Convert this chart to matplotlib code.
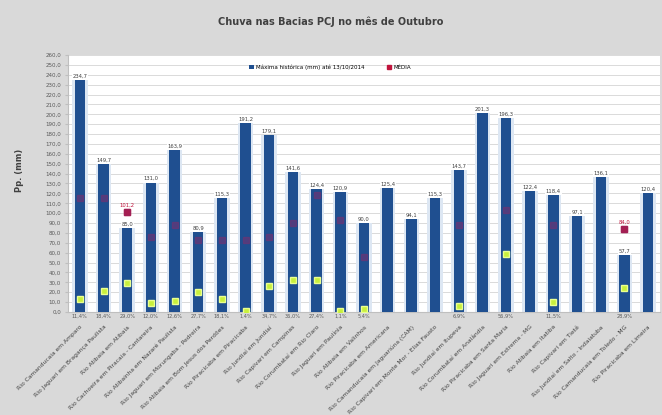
import matplotlib.pyplot as plt
import numpy as np

# postos pluviometricos das bacias PCJ
postos = ['Rio Camanducaia em Amparo', 'Rio Jaguari em Bragança Paulista',
          'Rio Atibaia em Atibaia', 'Rio Cachoeira em Piracaia - Cantareira',
          'Rio Atibainha em Nazaré Paulista', 'Rio Jaguari em Morungaba - Pedreira',
          'Rio Atibaia em Bom Jesus dos Perdões', 'Rio Piracicaba em Piracicaba',
          'Rio Jundiaí em Jundiaí', 'Rio Capivari em Campinas', 'Rio Corumbataí em Rio Claro',
          'Rio Jaguari em Paulínia', 'Rio Atibaia em Valinhos',
          'Rio Piracicaba em Americana', 'Rio Camanducaia em Jaguariúna (CAM)',
          'Rio Capivari em Monte Mor - Elias Fausto', 'Rio Jundiaí em Itupeva',
          'Rio Corumbataí em Analândia', 'Rio Piracicaba em Santa Maria',
          'Rio Jaguari em Extrema - MG', 'Rio Atibaia em Itatiba', 'Rio Capivari em Tietê',
          'Rio Jundiaí em Salto - Indaiatuba', 'Rio Camanducaia em Toledo - MG',
          'Rio Piracicaba em Limeira']

maxima = [234.7, 149.7, 85.0, 131.0, 163.9, 80.9, 115.3, 191.2, 179.1, 141.6,
          124.4, 120.9, 90.0, 125.4, 94.1, 115.3, 143.7, 201.3, 196.3, 122.4,
          118.4, 97.1, 136.1, 57.7, 120.4]
media = [115.3, 115.3, 101.2, 75.9, 88.0, 72.8, 72.8, 72.8, 75.9, 90.0,
         118.4, 93.1, 55.6, np.nan, np.nan, np.nan, 88.0, np.nan, 103.2, np.nan,
         88.0, np.nan, np.nan, 84.0, np.nan]
acumulada = [13.2, 21.2, 29.3, 9.1, 11.1, 20.2, 13.2, 1.0, 26.3, 32.4,
             32.4, 1.0, 3.0, np.nan, np.nan, np.nan, 6.1, np.nan, 58.7, np.nan,
             10.1, np.nan, np.nan, 24.3, np.nan]

def br(v, d=1):
    return f'{v:.{d}f}'.replace('.', ',')

x = np.arange(len(postos))
fig = plt.figure(figsize=(6.62, 4.15), dpi=100, facecolor='#d9d9d9')
ax = fig.add_axes([68 / 662, (415 - 312) / 415, 592 / 662, 257 / 415])
ax.set_facecolor('white')

# "brilho" claro em volta das barras
ax.bar(x, maxima, width=0.66, color='#dde7f3', zorder=1.5)
barras = ax.bar(x, maxima, width=0.44, color='#1f4f90', zorder=3)

# media: atras das barras e levemente visivel dentro delas
med, = ax.plot(x, media, 's', color='#c0143c', ms=4, zorder=2)
ax.plot(x, media, 's', color='#8a2a6a', ms=4, alpha=0.45, zorder=4)
ax.plot(x, acumulada, 's', color='#c8f03c', mec='#eaff90', mew=1, ms=5, zorder=5)

for i in range(len(postos)):
    ax.text(x[i], maxima[i] + 1.5, br(maxima[i]), ha='center', va='bottom', fontsize=3.8,
            color='#404040', zorder=6,
            bbox=dict(boxstyle='square,pad=0.1', fc='white', ec='none'))
    if not np.isnan(media[i]) and media[i] > maxima[i]:
        ax.text(x[i], media[i] + 4, br(media[i]), ha='center', va='bottom', fontsize=3.8,
                color='#c0143c', zorder=2)
    if not np.isnan(acumulada[i]):
        ax.text(x[i], -2, br(acumulada[i] / media[i] * 100) + '%', ha='center', va='top',
                fontsize=3.6, color='#595959', clip_on=False)

ax.set_xlim(-0.5, len(postos) - 0.5)
ax.set_ylim(0, 260)
ax.set_yticks(np.arange(0, 261, 10))
ax.set_yticklabels([br(v) for v in np.arange(0, 261, 10)], fontsize=4, color='#595959')
ax.set_xticks(x)
ax.set_xticklabels(postos, rotation=45, ha='right', rotation_mode='anchor',
                   fontsize=4.3, color='#404040')
ax.tick_params(axis='x', length=0, pad=9)
ax.tick_params(axis='y', length=2, color='#bfbfbf', pad=3)
ax.grid(axis='y', color='#d4d4d4', lw=0.6)
ax.set_axisbelow(True)
for s in ['top', 'right']:
    ax.spines[s].set_visible(False)
ax.spines['left'].set_color('#bfbfbf')
ax.spines['bottom'].set_color('#bfbfbf')

ax.legend([barras, med], ['Máxima histórica (mm) até 13/10/2014', 'MÉDIA'],
          loc='center', bbox_to_anchor=(0.443, 0.953), ncol=2, frameon=False,
          fontsize=4, handlelength=0.8, handletextpad=0.4, columnspacing=4, markerscale=0.7)

fig.text(0.5, 1 - 22 / 415, 'Chuva nas Bacias PCJ no mês de Outubro', ha='center', va='center',
         fontsize=7, fontweight='bold', color='#404040')
fig.text(20 / 662, 1 - 170 / 415, 'Pp. (mm)', rotation=90, ha='center', va='center',
         fontsize=6, fontweight='bold', color='#404040')

plt.savefig('out.png', dpi=100, facecolor=fig.get_facecolor())
